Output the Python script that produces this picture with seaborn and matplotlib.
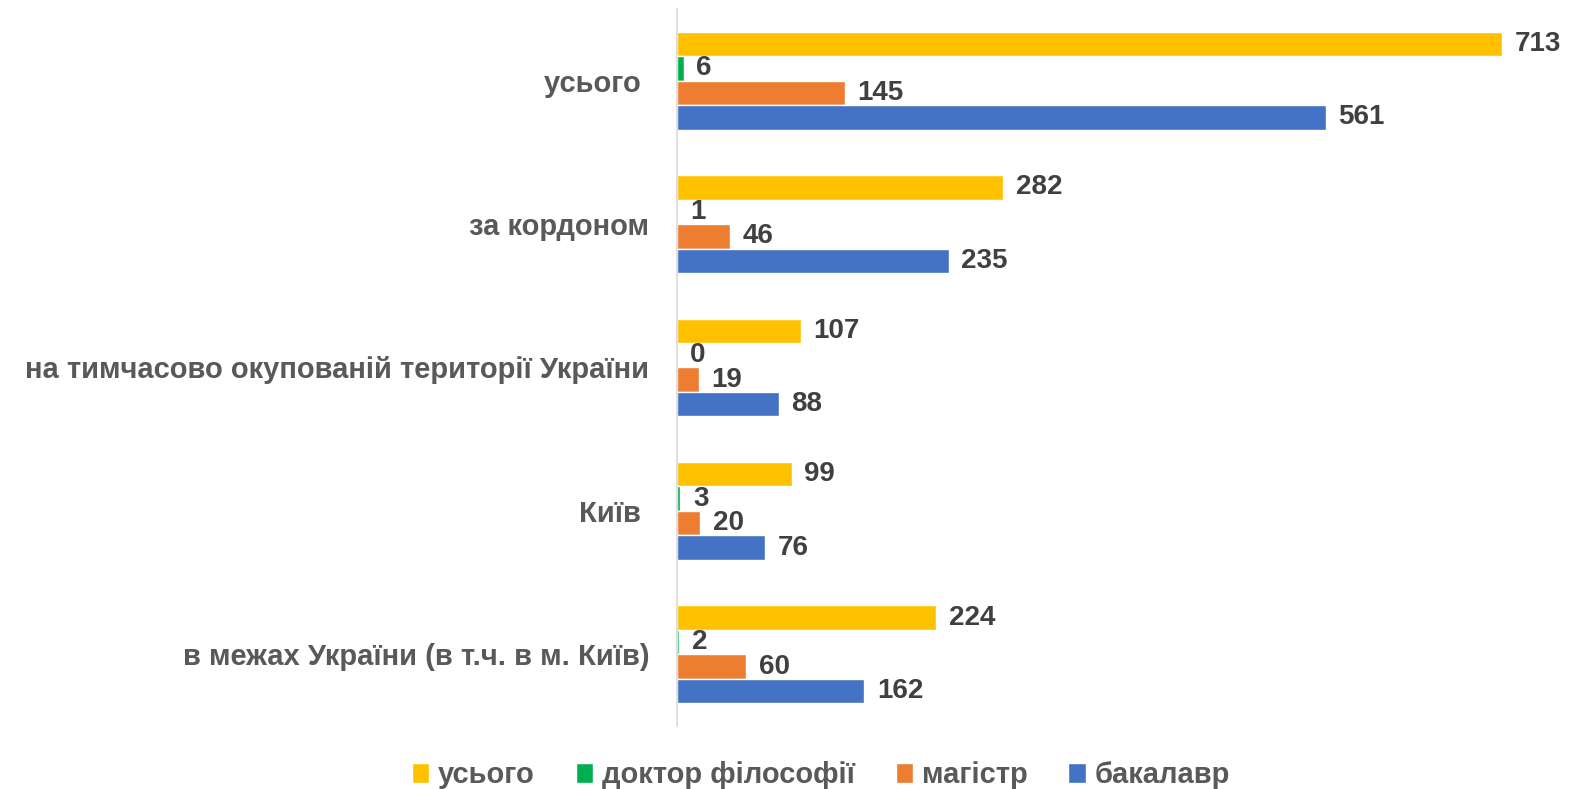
import matplotlib
matplotlib.use("Agg")
import matplotlib.pyplot as plt
import seaborn as sns
import pandas as pd

categories = ["усього ", "за кордоном", "на тимчасово окупованій території України", "Київ ", "в межах України (в т.ч. в м. Київ)"]
series = ["усього", "доктор філософії", "магістр", "бакалавр"]
vals_total = [713, 282, 107, 99, 224]
vals_phd = [6, 1, 0, 3, 2]
vals_master = [145, 46, 19, 20, 60]
vals_bachelor = [561, 235, 88, 76, 162]
colors = ["#FFC000", "#00B050", "#ED7D31", "#4472C4"]

rows = []
for s, vals in zip(series, [vals_total, vals_phd, vals_master, vals_bachelor]):
    for c, v in zip(categories, vals):
        rows.append({"cat": c, "series": s, "value": v})
df = pd.DataFrame(rows)

sns.set_theme(style="white")
plt.rcParams["font.family"] = ["Liberation Sans", "DejaVu Sans"]

W, H = 1594, 789
fig = plt.figure(figsize=(W / 100, H / 100), dpi=100)
ax = fig.add_axes([677 / W, 1 - 726 / H, (1560 - 677) / W, (726 - 9) / H])

sns.barplot(data=df, y="cat", x="value", hue="series", order=categories,
            hue_order=series, palette=colors, orient="h", width=0.683,
            saturation=1, ax=ax, legend=True)

ax.set_xlim(0, (1560 - 677) / 1.157)
ax.set_ylim(4.5, -0.5)
for cont in ax.containers:
    ax.bar_label(cont, padding=9, fontsize=20, fontweight="bold", color="#404040")

ax.set_xlabel("")
ax.set_ylabel("")
ax.set_xticks([])
ax.tick_params(axis="y", length=0, pad=20)
for lab in ax.get_yticklabels():
    lab.set_fontsize(21)
    lab.set_fontweight("bold")
    lab.set_color("#595959")
for side in ["top", "right", "bottom"]:
    ax.spines[side].set_visible(False)
ax.spines["left"].set_color("#D9D9D9")
ax.spines["left"].set_linewidth(1.2)

handles, labels = ax.get_legend_handles_labels()
ax.get_legend().remove()
leg = fig.legend(handles, labels, loc="center", bbox_to_anchor=(0.515, 1 - 775 / H),
                 ncol=4, frameon=False, handlelength=0.6, handleheight=0.7,
                 handletextpad=0.3, columnspacing=1.4,
                 prop={"size": 21, "weight": "bold"})
for t in leg.get_texts():
    t.set_color("#595959")

fig.savefig("out.png", dpi=100)
